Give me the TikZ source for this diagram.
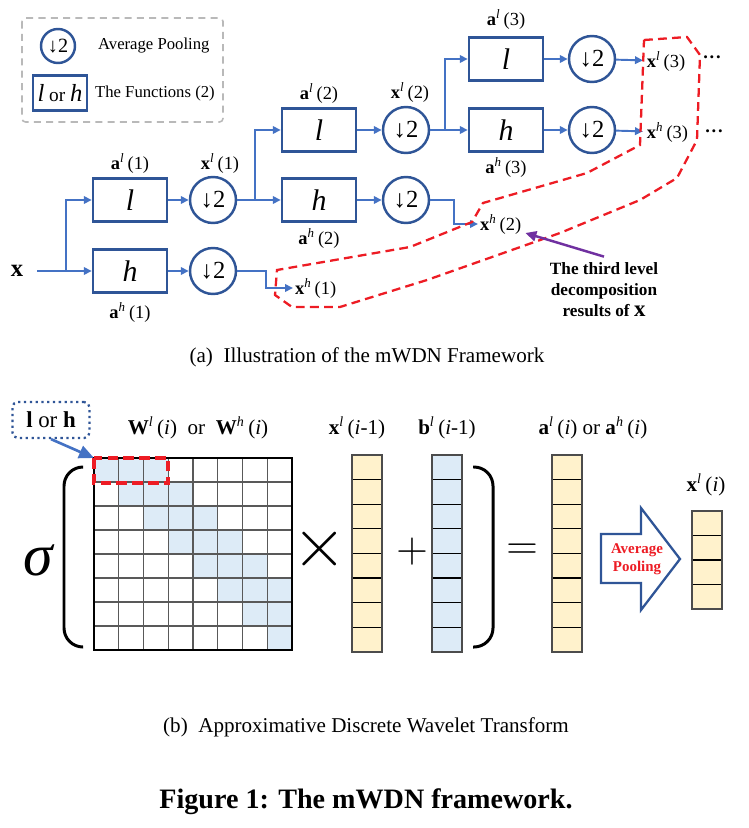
\documentclass[tikz,border=0pt]{standalone}
\usepackage{fontspec}
\setmainfont{Liberation Serif}
\usetikzlibrary{arrows.meta,calc,positioning}
\definecolor{boxblue}{RGB}{47,85,151}
\definecolor{lineblue}{RGB}{68,114,196}
\definecolor{dashred}{RGB}{237,28,36}
\definecolor{cellblue}{RGB}{221,235,247}
\definecolor{cellyellow}{RGB}{255,242,204}
\definecolor{notepurple}{RGB}{112,48,160}
\newcommand{\sv}[3]{\textbf{#1}\textsuperscript{\itshape #2}\,(#3)}
\tikzset{
 fbox/.style={draw=boxblue, line width=1.4pt, minimum width=1.48cm, minimum height=0.86cm, inner sep=0pt, font=\fontsize{17}{20}\selectfont\itshape},
 pool/.style={circle, draw=boxblue, line width=1.4pt, minimum size=0.92cm, inner sep=0pt, font=\fontsize{14}{15}\selectfont},
 lab/.style={inner sep=1pt, font=\fontsize{10.5}{12}\selectfont},
 head/.style={inner sep=1pt, font=\fontsize{12}{14}\selectfont},
 link/.style={draw=lineblue, line width=1.1pt},
 tip/.style={link, -{Triangle[length=1.6mm,width=1.5mm]}},
}
\begin{document}
\begin{tikzpicture}[x=0.02cm, y=-0.02cm]
\useasboundingbox (0,0) rectangle (749,828);

% legend
\draw[gray!55, line width=0.9pt, dash pattern=on 4pt off 3pt, rounded corners=2pt] (22,18) rectangle (223,122);
\node[pool, minimum size=0.68cm, font=\fontsize{11.5}{13}\selectfont] (legpool) at (58,46) {↓2};
\node[lab, anchor=west, font=\fontsize{9.5}{11}\selectfont] (legpooltxt) at (96,46) {Average Pooling};
\node[fbox, minimum width=1.08cm, minimum height=0.7cm, font=\fontsize{11}{13}\selectfont] (legfun) at (60,93) {{\fontsize{14}{14}\selectfont\itshape l} or {\fontsize{14}{14}\selectfont\itshape h}};
\node[lab, anchor=west, font=\fontsize{9.5}{11}\selectfont] (legfuntxt) at (93,93) {The Functions (2)};

% level 1
\node[font=\fontsize{14}{16}\selectfont\bfseries] (x0) at (17,271) {x};
\coordinate (s0) at (66,271);
\node[fbox] (l1) at (130,200) {l};
\node[fbox] (h1) at (130,271) {h};
\node[pool] (pl1) at (213,200) {↓2};
\node[pool] (ph1) at (213,271) {↓2};
\node[lab] (al1) at (130,163) {\sv{a}{l}{1}};
\node[lab] (xl1) at (220,163) {\sv{x}{l}{1}};
\node[lab] (ah1) at (130,312) {\sv{a}{h}{1}};
\node[lab, anchor=west] (xh1) at (293,288) {\sv{x}{h}{1}};
\draw[link, shorten <=0.16cm] (x0.east) -- (s0);
\draw[tip] (s0) |- (l1);
\draw[tip] (s0) -- (h1);
\draw[tip] (l1) -- (pl1);
\draw[tip] (h1) -- (ph1);
\draw[tip] (ph1.east) -- ++(29,0) |- (xh1);

% level 2
\coordinate (s1) at (255,200);
\node[fbox] (l2) at (319,130) {l};
\node[fbox] (h2) at (319,200) {h};
\node[pool] (pl2) at (406,130) {↓2};
\node[pool] (ph2) at (406,200) {↓2};
\node[lab] (al2) at (319,93) {\sv{a}{l}{2}};
\node[lab] (xl2) at (410,92) {\sv{x}{l}{2}};
\node[lab] (ah2) at (319,238) {\sv{a}{h}{2}};
\node[lab, anchor=west] (xh2) at (478,224) {\sv{x}{h}{2}};
\draw[link] (pl1) -- (s1);
\draw[tip] (s1) |- (l2);
\draw[tip] (s1) -- (h2);
\draw[tip] (l2) -- (pl2);
\draw[tip] (h2) -- (ph2);
\draw[tip] (ph2.east) -- ++(24,0) |- (xh2);

% level 3
\coordinate (s2) at (445,130);
\node[fbox] (l3) at (506,59) {l};
\node[fbox] (h3) at (506,130) {h};
\node[pool] (pl3) at (592,59) {↓2};
\node[pool] (ph3) at (592,130) {↓2};
\node[lab] (al3) at (506,19) {\sv{a}{l}{3}};
\node[lab] (ah3) at (506,167) {\sv{a}{h}{3}};
\node[lab, anchor=west, inner sep=2pt] (xl3) at (643,61) {\sv{x}{l}{3}};
\node[lab, anchor=west, inner sep=2pt] (xh3) at (643,132) {\sv{x}{h}{3}};
\node[lab] (dl3) at (712,57) {\textbf{.\kern1pt.\kern1pt.}};
\node[lab] (dh3) at (714,131) {\textbf{.\kern1pt.\kern1pt.}};
\draw[link] (pl2) -- (s2);
\draw[tip] (s2) |- (l3);
\draw[tip] (s2) -- (h3);
\draw[tip] (l3) -- (pl3);
\draw[tip] (h3) -- (ph3);
\draw[tip] (pl3) -- (xl3);
\draw[tip] (ph3) -- (xh3);

% third level results
\draw[dashred, line width=1.3pt, dash pattern=on 5pt off 3pt] (644,40) -- (687,37) -- (700,55) -- (697,140) -- (677,178) -- (640,200) -- (560,233) -- (427,280) -- (340,307) -- (292,307) -- (275,295) -- (277,270) -- (410,247) -- (472,222) -- (483,203) -- (587,173) -- (640,145) -- cycle;
\node[align=center, font=\bfseries\fontsize{9.8}{12}\selectfont] (note) at (604,290) {The third level\\decomposition\\results of {\fontsize{13}{12}\selectfont x}};
\draw[notepurple, line width=1.4pt, -{Triangle[length=2.2mm,width=2mm]}] (note.north) -- ($(xh2.east)+(2,9)$);
\node[font=\fontsize{12}{14}\selectfont] (capa) at (367,357) {(a)\enspace Illustration of the mWDN Framework};

% part (b)
\coordinate (mtl) at (94,458);
\node[draw=boxblue, dotted, line width=1.3pt, rounded corners=3pt, minimum width=1.54cm, minimum height=0.72cm, font=\fontsize{13}{15}\selectfont] (lorh) at (51,420) {\textbf{l} or \textbf{h}};
\draw[lineblue, line width=1.5pt, -{Triangle[length=3mm,width=2.6mm]}] (lorh.south) -- (mtl);
\node[head] (wlab) at (198,428) {\sv{W}{l}{\textit{i}}\ \ or\ \ \sv{W}{h}{\textit{i}}};
\foreach \r in {0,...,7}{
 \foreach \d in {0,1,2}{
  \pgfmathtruncatemacro\c{\r+\d}
  \ifnum\c<8 \fill[cellblue] ({94+24.75*\c},{458+24*\r}) rectangle ++(24.75,24); \fi
 }
}
\foreach \i in {1,...,7}{
 \draw[gray!70!black, line width=0.6pt] ({94+24.75*\i},458) -- ++(0,192);
 \draw[gray!70!black, line width=0.6pt] (94,{458+24*\i}) -- ++(198,0);
}
\draw[line width=1.6pt] (mtl) rectangle (292,650);
\draw[dashred, line width=2pt, dash pattern=on 6pt off 3pt] (mtl) rectangle (168,483);

% vectors
\foreach \vx/\vc in {352/cellyellow,432/cellblue,552/cellyellow}{
 \foreach \k in {0,...,7}
  \draw[fill=\vc, line width=0.6pt] (\vx,{455+24.6*\k}) rectangle ++(30,24.6);
 \draw[gray!60!black, line width=1pt] (\vx,455) rectangle ++(30,197);
}
\foreach \k in {0,...,3}
 \draw[fill=cellyellow, line width=0.6pt] (692,{511+24.5*\k}) rectangle ++(30,24.5);
\draw[gray!60!black, line width=1pt] (692,511) rectangle ++(30,98);
\node[head] (xlab) at (357,428) {\sv{x}{l}{\textit{i}-1}};
\node[head] (blab) at (447,428) {\sv{b}{l}{\textit{i}-1}};
\node[head] (alab) at (593,428) {\sv{a}{l}{\textit{i}} or \sv{a}{h}{\textit{i}}};
\node[head] (xilab) at (706,485) {\sv{x}{l}{\textit{i}}};

% brackets and operators
\draw[line width=1.7pt, rounded corners=0.38cm] (83,467) -- (64,467) -- (64,647) -- (83,647);
\draw[line width=1.7pt, rounded corners=0.38cm] (473,467) -- (493,467) -- (493,647) -- (473,647);
\node[font=\fontsize{34}{34}\selectfont\itshape] (sig) at (38,560) {σ};
\node[font=\fontsize{24}{24}\selectfont, scale=1.6] (times) at (320,549) {$\times$};
\node[font=\fontsize{25}{25}\selectfont] (plus) at (412,552) {$+$};
\node[font=\fontsize{25}{25}\selectfont] (eq) at (522,552) {$=$};

% average pooling arrow
\draw[boxblue, line width=1.3pt, fill=white] (601,534) -- (641,534) -- (641,508) -- (680,559) -- (641,610) -- (641,583) -- (601,583) -- cycle;
\node[text=dashred, align=center, font=\bfseries\fontsize{8.5}{10}\selectfont] (avgpool) at (637,559) {Average\\Pooling};

\node[font=\fontsize{12}{14}\selectfont] (capb) at (366,727) {(b)\enspace Approximative Discrete Wavelet Transform};
\node[font=\bfseries\fontsize{16}{18}\selectfont] (fig) at (366,802) {Figure 1: The mWDN framework.};
\end{tikzpicture}
\end{document}
